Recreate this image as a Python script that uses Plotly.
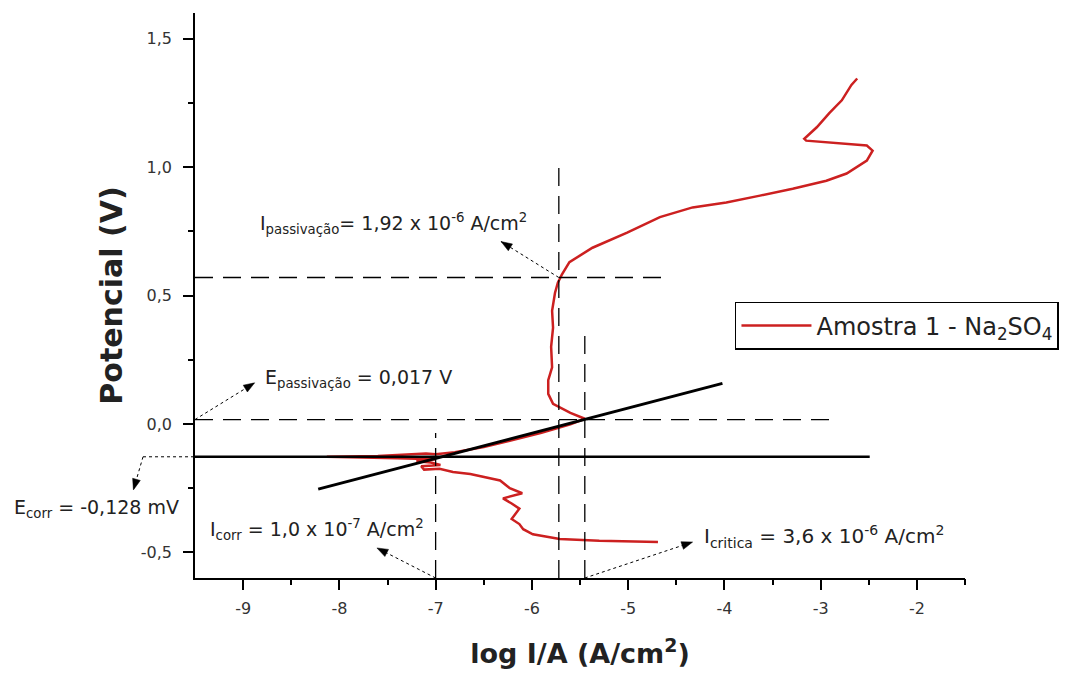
import plotly.graph_objects as go

# ---- data ----
log_i = [-4.69, -5.00, -5.30, -5.71, -5.99, -6.09, -6.13, -6.21, -6.13, -6.21, -6.30, -6.10,
         -6.23, -6.33, -6.50, -6.64, -6.82, -6.96, -7.12, -7.15, -6.95, -7.05, -7.20, -7.00,
         -7.40, -7.80, -8.13, -7.60, -7.30, -7.10, -7.00, -6.80, -6.50, -6.20, -5.90, -5.60,
         -5.45, -5.60, -5.78, -5.83, -5.83, -5.79, -5.80, -5.78, -5.79, -5.76, -5.73, -5.71,
         -5.69, -5.61, -5.37, -5.01, -4.67, -4.33, -3.98, -3.63, -3.29, -2.94, -2.73, -2.52,
         -2.46, -2.52, -2.73, -2.98, -3.15, -3.17, -3.04, -2.91, -2.78, -2.68, -2.62]
potential = [-0.460, -0.458, -0.455, -0.448, -0.430, -0.410, -0.390, -0.370, -0.330, -0.310,
             -0.290, -0.270, -0.250, -0.220, -0.205, -0.195, -0.187, -0.175, -0.178, -0.165,
             -0.160, -0.150, -0.145, -0.138, -0.134, -0.130, -0.128, -0.125, -0.120, -0.115,
             -0.118, -0.110, -0.090, -0.062, -0.035, -0.002, 0.020, 0.043, 0.078, 0.117, 0.170,
             0.220, 0.300, 0.375, 0.440, 0.510, 0.550, 0.565, 0.580, 0.630, 0.686, 0.745, 0.805,
             0.843, 0.862, 0.889, 0.916, 0.947, 0.975, 1.025, 1.064, 1.084, 1.090, 1.096, 1.103,
             1.110, 1.155, 1.210, 1.260, 1.320, 1.345]

series_name = "Amostra 1 - Na<sub>2</sub>SO<sub>4</sub>"

# Tafel extrapolation line
tafel_x = [-8.22, -4.02]
tafel_y = [-0.254, 0.158]

# characteristic values
E_corr = -0.128
E_pass = 0.017
E_pass_top = 0.57
logI_corr = -7.0
logI_pass = -5.72
logI_crit = -5.45

x_range = [-9.5, -1.5]
y_range = [-0.6, 1.6]
x_tickvals = [-9, -8, -7, -6, -5, -4, -3, -2]
x_ticktext = ["-9", "-8", "-7", "-6", "-5", "-4", "-3", "-2"]
y_tickvals = [-0.5, 0.0, 0.5, 1.0, 1.5]
y_ticktext = ["-0,5", "0,0", "0,5", "1,0", "1,5"]
x_minor = [-8.5, -7.5, -6.5, -5.5, -4.5, -3.5, -2.5, -1.5]
y_minor = [-0.25, 0.25, 0.75, 1.25]

FONT = "DejaVu Sans, Verdana, sans-serif"
RED = "#cc2020"

fig = go.Figure()

fig.add_trace(go.Scatter(x=log_i, y=potential, mode="lines", name=series_name,
                         line=dict(color=RED, width=2.5), showlegend=True))
fig.add_trace(go.Scatter(x=tafel_x, y=tafel_y, mode="lines", showlegend=False,
                         line=dict(color="black", width=3), hoverinfo="skip"))
fig.add_trace(go.Scatter(x=[x_range[0], -2.49], y=[E_corr, E_corr], mode="lines",
                         showlegend=False, line=dict(color="black", width=2.5), hoverinfo="skip"))

dash = "18px,10px"
dashed = [
    ([x_range[0], -4.59], [E_pass_top, E_pass_top]),
    ([x_range[0], -2.90], [E_pass, E_pass]),
    ([logI_pass, logI_pass], [y_range[0], 1.035]),
    ([logI_crit, logI_crit], [y_range[0], 0.35]),
    ([logI_corr, logI_corr], [y_range[0], -0.035]),
]
for xs, ys in dashed:
    fig.add_trace(go.Scatter(x=xs, y=ys, mode="lines", showlegend=False, hoverinfo="skip",
                             line=dict(color="black", width=1.3, dash=dash)))

# empty trace carrying the overlay axes used for minor ticks
fig.add_trace(go.Scatter(x=[], y=[], xaxis="x2", yaxis="y2", showlegend=False, hoverinfo="skip"))

# figure geometry (page adds an 8px body margin)
W, H = 1068, 665
ML, MR, MT, MB = 187, 111, 5, 95
pw = W - ML - MR
ph = H - MT - MB


def px(xd):
    return (xd - x_range[0]) / (x_range[1] - x_range[0])


def py(yd):
    return (yd - y_range[0]) / (y_range[1] - y_range[0])


# arrows: (tail, tip) in data coordinates
arrows = [
    ((logI_pass, E_pass_top), (-6.32, 0.71)),
    ((x_range[0], E_pass), (-8.88, 0.16)),
    ((-10.04, E_corr), (-10.14, -0.257)),
    ((logI_corr, y_range[0]), (-7.61, -0.483)),
    ((logI_crit, y_range[0]), (-4.33, -0.46)),
]
shapes = []
for (tx, ty), (hx, hy) in arrows:
    shapes.append(dict(type="line", xref="paper", yref="paper",
                       x0=px(tx), y0=py(ty), x1=px(hx), y1=py(hy),
                       line=dict(color="black", width=1, dash="dot")))
    dx = (px(hx) - px(tx)) * pw
    dy = (py(hy) - py(ty)) * ph
    L = (dx ** 2 + dy ** 2) ** 0.5
    ux, uy = dx / L, dy / L
    nx, ny = -uy, ux
    hl, hw = 11, 4
    bx, by = px(hx) * pw - hl * ux, py(hy) * ph - hl * uy
    p1 = (px(hx), py(hy))
    p2 = ((bx + hw * nx) / pw, (by + hw * ny) / ph)
    p3 = ((bx - hw * nx) / pw, (by - hw * ny) / ph)
    path = "M {:.5f} {:.5f} L {:.5f} {:.5f} L {:.5f} {:.5f} Z".format(*p1, *p2, *p3)
    shapes.append(dict(type="path", xref="paper", yref="paper", path=path,
                       fillcolor="black", line=dict(color="black", width=0.5)))
shapes.append(dict(type="line", xref="paper", yref="paper",
                   x0=px(-10.04), y0=py(E_corr), x1=0, y1=py(E_corr),
                   line=dict(color="black", width=1, dash="dot")))

labels = [
    (-8.85, 0.78, "I<sub>passivação</sub>= 1,92 x 10<sup>-6</sup> A/cm<sup>2</sup>", 19),
    (-8.79, 0.175, "E<sub>passivação</sub> = 0,017 V", 19),
    (-11.40, -0.33, "E<sub>corr</sub> = -0,128 mV", 19),
    (-9.37, -0.41, "I<sub>corr</sub> = 1,0 x 10<sup>-7</sup> A/cm<sup>2</sup>", 19),
    (-4.23, -0.44, "I<sub>critica</sub> = 3,6 x 10<sup>-6</sup> A/cm<sup>2</sup>", 20),
]
annotations = []
for x, y, t, s in labels:
    annotations.append(dict(xref="paper", yref="paper", x=px(x), y=py(y), text=t,
                            showarrow=False, xanchor="left", yanchor="middle",
                            font=dict(family=FONT, size=s, color="#222222")))

fig.update_layout(
    width=W, height=H,
    margin=dict(l=ML, r=MR, t=MT, b=MB, pad=0),
    paper_bgcolor="white", plot_bgcolor="white",
    font=dict(family=FONT, color="#222222"),
    shapes=shapes, annotations=annotations,
    legend=dict(x=px(-3.89), y=py(0.475), xanchor="left", yanchor="top",
                bordercolor="black", borderwidth=1.5, bgcolor="white",
                font=dict(family=FONT, size=24, color="#222222"), itemwidth=70),
    xaxis=dict(range=x_range, showline=True, linecolor="black", linewidth=1.5,
               showgrid=False, zeroline=False, ticks="outside", ticklen=10,
               tickwidth=1.5, tickcolor="black", tickvals=x_tickvals, ticktext=x_ticktext,
               tickfont=dict(family=FONT, size=16, color="#333333"), ticklabelstandoff=5,
               title=dict(text="log I/A (A/cm<sup>2</sup>)", standoff=27,
                          font=dict(family=FONT, size=27, color="#222222", weight="bold"))),
    yaxis=dict(range=y_range, showline=True, linecolor="black", linewidth=1.5,
               showgrid=False, zeroline=False, ticks="outside", ticklen=10,
               tickwidth=1.5, tickcolor="black", tickvals=y_tickvals, ticktext=y_ticktext,
               tickfont=dict(family=FONT, size=16, color="#333333"), ticklabelstandoff=8,
               title=dict(text="Potencial (V)", standoff=9,
                          font=dict(family=FONT, size=30, color="#222222", weight="bold"))),
    xaxis2=dict(overlaying="x", anchor="y2", side="bottom", range=x_range, showline=False,
                showgrid=False, zeroline=False, ticks="outside", ticklen=6, tickwidth=1.5,
                tickcolor="black", tickvals=x_minor, showticklabels=False, fixedrange=True),
    yaxis2=dict(overlaying="y", anchor="x2", side="left", range=y_range, showline=False,
                showgrid=False, zeroline=False, ticks="outside", ticklen=6, tickwidth=1.5,
                tickcolor="black", tickvals=y_minor, showticklabels=False, fixedrange=True),
)

fig.write_html("out.html")
